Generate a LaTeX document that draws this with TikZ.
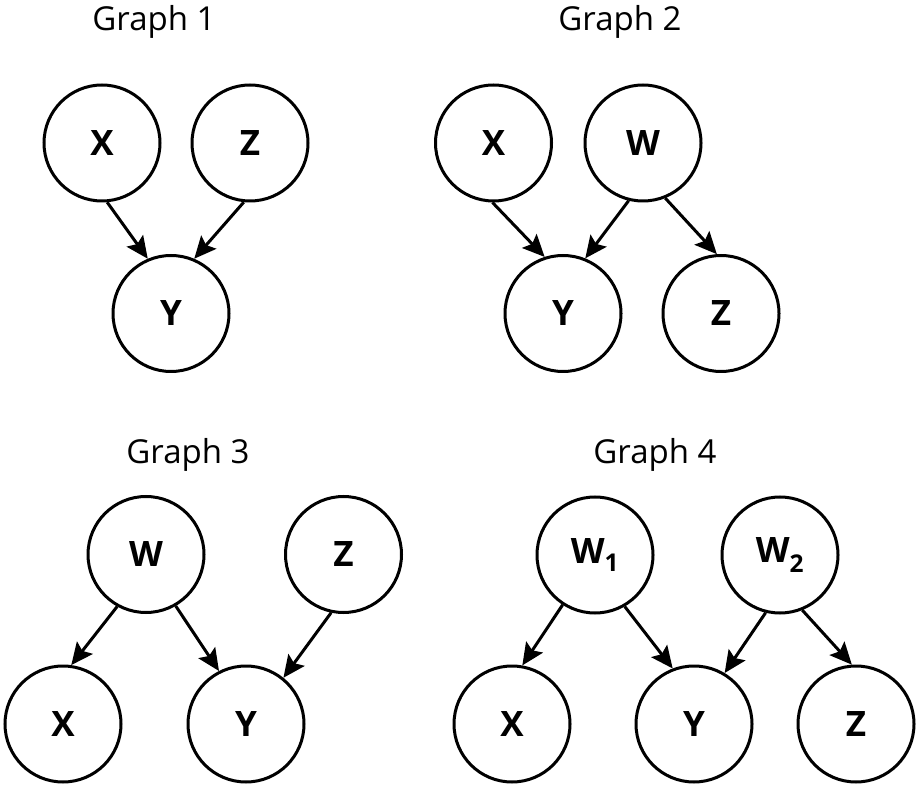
\documentclass[tikz,border=0pt]{standalone}
\usepackage{fontspec}
\setmainfont{Open Sans}
\usetikzlibrary{arrows.meta}

\newlength{\du}
\setlength{\du}{1pt}

\tikzset{
  var/.style={draw, circle, line width=3\du, minimum size=116\du, inner sep=0pt,
    font=\fontsize{35}{41}\selectfont\bfseries},
  gtitle/.style={anchor=base, font=\fontsize{33}{39}\selectfont},
  dep/.style={line width=3\du, -{Stealth[length=22pt, width=20pt, inset=4pt]}}
}

\begin{document}
\begin{tikzpicture}
\pgftransformxscale{1.000000}
\pgftransformyscale{-1.000000}
\useasboundingbox (0\du,0\du) rectangle (916\du,791\du);
% graph 1
\node[gtitle] (t1) at (154\du,31\du){Graph 1};
\node[var] (g1x) at (102\du,143\du){X};
\node[var] (g1z) at (250\du,143\du){Z};
\node[var] (g1y) at (171\du,313.5\du){Y};
\draw[dep] (g1x.-85)--(g1y.113);
\draw[dep] (g1z.-96)--(g1y.67);
% graph 2
\node[gtitle] (t2) at (620\du,31\du){Graph 2};
\node[var] (g2x) at (493.5\du,143\du){X};
\node[var] (g2w) at (643\du,143\du){W};
\node[var] (g2y) at (563\du,313.5\du){Y};
\node[var] (g2z) at (721\du,313.5\du){Z};
\draw[dep] (g2x.-91)--(g2y.108);
\draw[dep] (g2w.-104)--(g2y.68);
\draw[dep] (g2w.-68)--(g2z.94);
% graph 3
\node[gtitle] (t3) at (188\du,464\du){Graph 3};
\node[var] (g3w) at (146\du,554.5\du){W};
\node[var] (g3z) at (343.5\du,554.5\du){Z};
\node[var] (g3x) at (63\du,724\du){X};
\node[var] (g3y) at (246\du,724\du){Y};
\draw[dep] (g3w.-119)--(g3x.82);
\draw[dep] (g3w.-60)--(g3y.117);
\draw[dep] (g3z.-102)--(g3y.51);
% graph 4
\node[gtitle] (t4) at (655\du,464\du){Graph 4};
\node[var] (g4wa) at (595\du,555\du){W\textsubscript{1}};
\node[var] (g4wb) at (780\du,555\du){W\textsubscript{2}};
\node[var] (g4x) at (512\du,724\du){X};
\node[var] (g4y) at (694\du,724\du){Y};
\node[var] (g4z) at (856\du,724\du){Z};
\draw[dep] (g4wa.-123)--(g4x.80);
\draw[dep] (g4wa.-60)--(g4y.111);
\draw[dep] (g4wb.-104)--(g4y.59);
\draw[dep] (g4wb.-68)--(g4z.94);
\end{tikzpicture}
\end{document}
